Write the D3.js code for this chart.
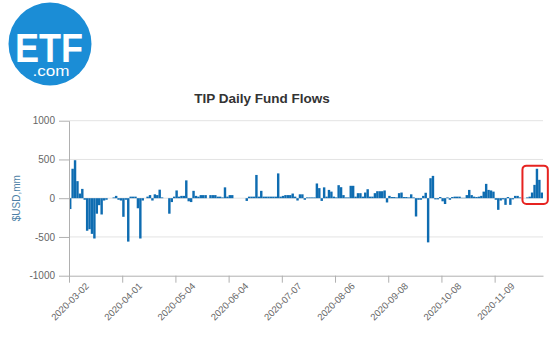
<!DOCTYPE html>
<html>
<head>
<meta charset="utf-8">
<script src="https://cdn.jsdelivr.net/npm/d3@7"></script>
<style>
    body { margin: 0; background: #fff; }
    svg { display: block; font-family: "Liberation Sans", Arial, sans-serif; }
</style>
</head>
<body>
<svg id="chart"></svg>
<script>
// tick labels on the x axis, one every 22 trading days
const tickLabels = ["2020-03-02", "2020-04-01", "2020-05-04", "2020-06-04", "2020-07-07",
    "2020-08-06", "2020-09-08", "2020-10-08", "2020-11-09"];
const tickEvery = 22;

const yTicks = [-1000, -500, 0, 500, 1000];

// daily flows in $USD,mm
const flows = [
    -140, 380, 490, 220, 60, 120, -20, -420, -400, -460,
    -520, -200, -90, -210, -30, -20, 0, 0, 10, 30,
    -20, -30, -240, -20, -560, 20, 20, 20, -130, -520,
    -30, 0, 20, 40, -30, 50, 40, 110, 10, 0,
    0, -200, -50, 20, 100, 20, 30, 30, 230, -40,
    -50, 95, 30, 20, 40, 40, 40, 0, 40, 40,
    40, 20, 20, 10, 140, 20, 40, 40, 0, 0,
    0, 0, 0, -35, 20, 20, 20, 300, 20, 95,
    20, 20, 20, 20, 20, 20, 320, 20, 30, 40,
    40, 40, 60, 20, -30, 50, 50, -20, 10, 10,
    10, 10, 190, 130, -35, 140, 20, 107, 85, 20,
    10, 168, 142, 40, 10, 10, 160, 160, 20, 65,
    65, 20, 73, 116, 20, 20, 65, 90, 90, 90,
    100, -55, 30, 15, 15, 10, 65, 73, 15, 15,
    10, 50, 10, -236, -20, -20, 30, 70, -570, 258,
    288, -15, -15, 15, -40, -75, 10, -20, 15, 20,
    20, 20, 5, 5, 40, 107, 40, 20, 15, 20,
    30, 85, 185, 107, 100, 85, -20, -150, -30, -15,
    -86, 15, -86, -15, 30, 30, 10, 0, 0, 10,
    20, 73, 172, 380, 237, 73
];

const width = 550, height = 350;
const margin = { top: 120.7, right: 7, bottom: 74.3, left: 69 };

const svg = d3.select("#chart")
    .attr("width", width)
    .attr("height", height)
    .attr("viewBox", [0, 0, width, height]);

const xScale = d3.scaleLinear().domain([0, flows.length]).range([margin.left, width - margin.right]);
const yScale = d3.scaleLinear().domain([-1000, 1000]).range([height - margin.bottom, margin.top]);

// ETF.com logo (one text element, two lines)
const logo = svg.append("g");
logo.append("circle")
    .attr("cx", 50).attr("cy", 44).attr("r", 41.5)
    .attr("fill", "#1b8dd6");
const logoText = logo.append("text")
    .attr("text-anchor", "middle")
    .attr("fill", "#fff");
logoText.append("tspan")
    .attr("x", 49).attr("y", 62)
    .attr("font-weight", "bold")
    .attr("font-size", 40)
    .attr("textLength", 68)
    .attr("lengthAdjust", "spacingAndGlyphs")
    .text("ETF");
logoText.append("tspan")
    .attr("x", 51).attr("y", 76)
    .attr("font-size", 15)
    .attr("textLength", 37)
    .attr("lengthAdjust", "spacingAndGlyphs")
    .text(".com");

// title
svg.append("text")
    .attr("x", 262).attr("y", 103)
    .attr("text-anchor", "middle")
    .attr("fill", "#333")
    .attr("font-weight", "bold")
    .attr("font-size", 13.5)
    .text("TIP Daily Fund Flows");

// grid lines
svg.append("g")
    .selectAll("line")
    .data(yTicks.filter(d => d > -1000))
    .join("line")
    .attr("x1", margin.left).attr("x2", width - margin.right)
    .attr("y1", d => yScale(d)).attr("y2", d => yScale(d))
    .attr("stroke", "#e3e3e3");

// bars
svg.append("g")
    .selectAll("rect")
    .data(flows)
    .join("rect")
    .attr("x", (d, i) => xScale(i))
    .attr("width", (d, i) => xScale(i + 1) - xScale(i))
    .attr("y", d => yScale(Math.max(0, d)))
    .attr("height", d => Math.abs(yScale(d) - yScale(0)))
    .attr("fill", "#0e6cb1");

// y axis
const yAxisGroup = svg.append("g")
    .attr("transform", `translate(${margin.left},0)`)
    .call(d3.axisLeft(yScale)
        .tickValues(yTicks)
        .tickFormat(d => String(d))
        .tickSize(10)
        .tickSizeOuter(0)
        .tickPadding(4));
yAxisGroup.select(".domain").attr("stroke", "#b0b0b0");
yAxisGroup.selectAll(".tick line").attr("stroke", "#b0b0b0");
yAxisGroup.selectAll(".tick text")
    .attr("fill", "#666")
    .attr("font-size", 10)
    .attr("font-family", "Liberation Sans, Arial, sans-serif");

// y axis label
svg.append("text")
    .attr("transform", `translate(20,${yScale(0)}) rotate(-90)`)
    .attr("text-anchor", "middle")
    .attr("fill", "#4d7fa6")
    .attr("font-size", 10)
    .text("$USD,mm");

// x axis
const xAxisGroup = svg.append("g")
    .attr("transform", `translate(0,${height - margin.bottom})`)
    .call(d3.axisBottom(xScale)
        .tickValues(d3.range(0, flows.length, tickEvery))
        .tickFormat(i => tickLabels[i / tickEvery])
        .tickSize(7)
        .tickSizeOuter(0));
xAxisGroup.select(".domain").attr("stroke", "#b0b0b0");
xAxisGroup.selectAll(".tick line").attr("stroke", "#b0b0b0");
xAxisGroup.selectAll(".tick text")
    .attr("fill", "#666")
    .attr("font-size", 9.5)
    .attr("font-family", "Liberation Sans, Arial, sans-serif")
    .attr("text-anchor", "end")
    .attr("x", 0).attr("y", 0).attr("dy", 0)
    .attr("transform", "translate(20,11) rotate(-45)");

// red highlight round the last days
svg.append("rect")
    .attr("x", xScale(187.5))
    .attr("y", yScale(420))
    .attr("width", xScale(198) - xScale(187.5))
    .attr("height", yScale(-75) - yScale(420))
    .attr("rx", 4)
    .attr("fill", "none")
    .attr("stroke", "#e62320")
    .attr("stroke-width", 2);
</script>
</body>
</html>
